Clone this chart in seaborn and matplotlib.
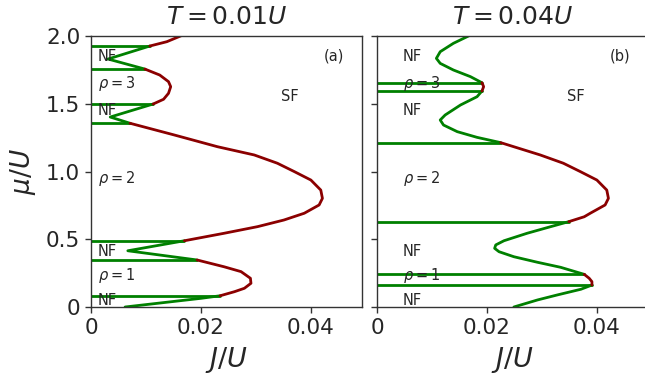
import matplotlib
matplotlib.use("Agg")
import matplotlib.pyplot as plt
import seaborn as sns
import pandas as pd

# ---------------- data: panel (a) T = 0.01U ----------------
a_sf_top_J = [0.0107, 0.0138, 0.0167]
a_sf_top_mu = [1.926, 1.958, 2.007]
a_sf3_J = [0.0098, 0.0125, 0.0141, 0.0145, 0.0141, 0.0132, 0.0113]
a_sf3_mu = [1.756, 1.712, 1.663, 1.626, 1.577, 1.533, 1.498]
a_sf2_J = [0.0071, 0.0152, 0.0230, 0.0297, 0.0339, 0.0370, 0.0400, 0.0418, 0.0421,
           0.0415, 0.0388, 0.0351, 0.0303, 0.0242, 0.0170]
a_sf2_mu = [1.356, 1.269, 1.183, 1.122, 1.061, 0.999, 0.937, 0.863, 0.802,
            0.753, 0.692, 0.642, 0.593, 0.544, 0.489]
a_sf1_J = [0.0193, 0.0242, 0.0273, 0.0290, 0.0291, 0.0279, 0.0261, 0.0235]
a_sf1_mu = [0.347, 0.297, 0.261, 0.212, 0.175, 0.138, 0.113, 0.083]
a_nf_top_J = [0.0107, 0.0031, 0.0098]
a_nf_top_mu = [1.926, 1.830, 1.756]
a_nf_mid_J = [0.0113, 0.0035, 0.0071]
a_nf_mid_mu = [1.498, 1.402, 1.356]
a_nf_low_J = [0.0170, 0.0067, 0.0193]
a_nf_low_mu = [0.489, 0.415, 0.347]
a_nf_bot_J = [0.0235, 0.0200, 0.0062]
a_nf_bot_mu = [0.083, 0.064, 0.0]
a_hline_mu = [0.083, 0.347, 0.489, 1.356, 1.498, 1.756, 1.926]
a_hline_J = [0.0235, 0.0193, 0.0170, 0.0071, 0.0113, 0.0098, 0.0107]

# ---------------- data: panel (b) T = 0.04U ----------------
b_nf_top_J = [0.0170, 0.0139, 0.0115, 0.0108, 0.0115, 0.0139, 0.0170, 0.0191]
b_nf_top_mu = [2.007, 1.946, 1.884, 1.835, 1.798, 1.749, 1.700, 1.655]
b_sf3_J = [0.0191, 0.0194, 0.0191]
b_sf3_mu = [1.655, 1.626, 1.594]
b_nf_mid_J = [0.0191, 0.0182, 0.0152, 0.0124, 0.0115, 0.0121, 0.0146, 0.0182, 0.0225]
b_nf_mid_mu = [1.594, 1.552, 1.491, 1.417, 1.380, 1.343, 1.294, 1.252, 1.213]
b_sf2_J = [0.0225, 0.0297, 0.0339, 0.0370, 0.0400, 0.0418, 0.0421, 0.0415, 0.0388,
           0.0377, 0.0349]
b_sf2_mu = [1.213, 1.122, 1.061, 0.999, 0.937, 0.863, 0.802, 0.753, 0.692,
            0.666, 0.630]
b_nf_low_J = [0.0349, 0.0316, 0.0273, 0.0231, 0.0216, 0.0214, 0.0222, 0.0249, 0.0292,
              0.0334, 0.0377]
b_nf_low_mu = [0.630, 0.593, 0.544, 0.489, 0.458, 0.433, 0.408, 0.371, 0.330,
               0.293, 0.241]
b_sf1_J = [0.0377, 0.0386, 0.0391, 0.0391]
b_sf1_mu = [0.241, 0.212, 0.187, 0.162]
b_nf_bot_J = [0.0391, 0.0371, 0.0328, 0.0292, 0.0249]
b_nf_bot_mu = [0.162, 0.131, 0.089, 0.052, 0.0]
b_hline_mu = [0.162, 0.241, 0.630, 1.213, 1.594, 1.655]
b_hline_J = [0.0391, 0.0377, 0.0349, 0.0225, 0.0191, 0.0191]

titles = [r"$T = 0.01U$", r"$T = 0.04U$"]
panel_tags = ["(a)", "(b)"]
x_ticks = [0, 0.02, 0.04]
x_ticklabels = ["0", "0.02", "0.04"]
y_ticks = [0, 0.5, 1.0, 1.5, 2.0]
y_ticklabels = ["0", "0.5", "1.0", "1.5", "2.0"]
region_labels = ["NF", r"$\rho = 3$", "NF", r"$\rho = 2$", "NF", r"$\rho = 1$", "NF"]
region_mu = [1.85, 1.65, 1.45, 0.95, 0.41, 0.23, 0.05]


def build(segments, hline_J, hline_mu):
    rows = []
    sid = 0
    for phase, J, mu in segments:
        for j, m in zip(J, mu):
            rows.append(dict(seg=sid, phase=phase, J=j, mu=m))
        sid += 1
    for j, m in zip(hline_J, hline_mu):
        rows.append(dict(seg=sid, phase="NF", J=0.0, mu=m))
        rows.append(dict(seg=sid, phase="NF", J=j, mu=m))
        sid += 1
    return pd.DataFrame(rows)


df_a = build([
    ("NF", a_nf_top_J, a_nf_top_mu), ("NF", a_nf_mid_J, a_nf_mid_mu),
    ("NF", a_nf_low_J, a_nf_low_mu), ("NF", a_nf_bot_J, a_nf_bot_mu),
    ("SF", a_sf_top_J, a_sf_top_mu), ("SF", a_sf3_J, a_sf3_mu),
    ("SF", a_sf2_J, a_sf2_mu), ("SF", a_sf1_J, a_sf1_mu),
], a_hline_J, a_hline_mu)

df_b = build([
    ("NF", b_nf_top_J, b_nf_top_mu), ("NF", b_nf_mid_J, b_nf_mid_mu),
    ("NF", b_nf_low_J, b_nf_low_mu), ("NF", b_nf_bot_J, b_nf_bot_mu),
    ("SF", b_sf3_J, b_sf3_mu), ("SF", b_sf2_J, b_sf2_mu), ("SF", b_sf1_J, b_sf1_mu),
], b_hline_J, b_hline_mu)

sns.set_theme(style="ticks")
plt.rcParams["font.family"] = ["DejaVu Sans"]
plt.rcParams["mathtext.fontset"] = "dejavusans"

fig = plt.figure(figsize=(6.45, 3.79), dpi=100)
W, H = 645.0, 379.0
ax_a = fig.add_axes([91 / W, 72 / H, 271 / W, 271 / H])
ax_b = fig.add_axes([377 / W, 72 / H, 271 / W, 271 / H])

palette = {"NF": "#008000", "SF": "#8b0000"}
region_J = [0.0012, 0.0047]

for i, (ax, df) in enumerate([(ax_a, df_a), (ax_b, df_b)]):
    sns.lineplot(data=df, x="J", y="mu", hue="phase", units="seg", estimator=None,
                 sort=False, palette=palette, legend=False, linewidth=2.0, ax=ax)
    ax.set_xlim(0, 0.0493)
    ax.set_ylim(0, 2.0)
    ax.set_xticks(x_ticks)
    ax.set_xticklabels(x_ticklabels)
    ax.set_yticks(y_ticks)
    for s in ax.spines.values():
        s.set_visible(True)
        s.set_color("#333333")
        s.set_linewidth(1.0)
    ax.tick_params(axis="both", labelsize=15.5, length=4.3, width=1.0, color="#333333",
                   labelcolor="#262626", pad=3.5)
    ax.set_xlabel(r"$J/U$", fontsize=19.5)
    ax.xaxis.set_label_coords(0.5, -0.14)
    ax.set_title(titles[i], fontsize=18, pad=8.5, color="#262626")
    for lab, m in zip(region_labels, region_mu):
        ax.text(region_J[i], m, lab, ha="left", va="center", fontsize=10.5, color="#262626")
    ax.text(0.0442, 1.85, panel_tags[i], ha="center", va="center", fontsize=10.5, color="#262626")
    ax.text(0.0362, 1.55, "SF", ha="center", va="center", fontsize=10.5, color="#262626")

ax_a.set_yticklabels(y_ticklabels)
ax_a.set_ylabel(r"$\mu/U$", fontsize=19)
ax_a.yaxis.set_label_coords(-0.197, 0.5)
ax_b.set_yticklabels([])
ax_b.set_ylabel("")

fig.savefig("out.png", dpi=100)
